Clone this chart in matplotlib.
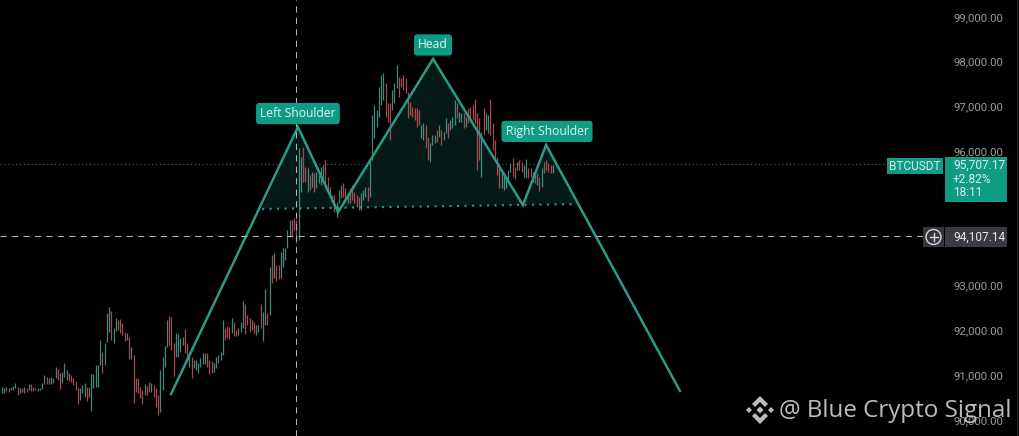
#Importing the necessary libraries
import matplotlib
matplotlib.use("Agg")
import matplotlib.pyplot as plt
from matplotlib.patches import Rectangle, Polygon, Circle

#Candle data, one entry per bar
highs = [
    90740,90710,90740,90710,90740,90760,90830,90740,90710,90710,
    90740,90710,90800,90800,90740,90710,90710,90710,90830,91000,
    90960,90940,90960,90940,91180,91140,91050,91070,91270,91120,
    91050,91000,90940,90870,90710,90710,90780,90830,90740,90740,
    91030,91030,91230,91230,91790,91520,91720,92390,92520,92430,
    92050,92280,92230,92250,92170,91960,91940,91850,91630,91450,
    90940,90940,90740,90670,90800,90760,90850,90830,90780,90710,
    90560,91120,91410,91650,92230,92320,92300,91720,91940,91920,
    91830,91850,92030,91720,91500,91410,91340,91340,91270,91380,
    91500,91500,91500,91340,91320,91270,91410,91450,91520,92230,
    92050,92100,92080,92280,92190,92010,92050,92190,92660,92590,
    92340,92280,92230,92190,92120,92120,92590,92410,92920,92390,
    93410,93680,93730,93460,93460,93750,93840,93840,94240,94460,
    94460,94510,94460,96070,95870,96090,95650,95620,95470,95540,
    95510,95540,95470,95650,95690,95800,95420,95200,95020,95020,
    94870,95130,95250,95290,95180,95070,95180,95250,95090,95020,
    94980,95070,95130,95200,95200,95800,96810,97030,96920,97430,
    97700,97750,97520,97080,97080,97370,97520,97920,97660,97630,
    97700,97630,97320,97100,96990,96960,96960,96920,96580,96630,
    96580,96320,96180,96360,96360,96470,96580,96470,96430,96740,
    96630,96700,96760,97140,97080,96870,96850,96850,96760,96960,
    96990,97030,97160,96850,96740,96430,96960,96850,96810,97160,
    96630,96250,95870,95740,95510,95470,95420,95580,95740,95850,
    95650,95760,95800,95760,95690,95830,95620,95620,95540,95470,
    95510,95420,95620,95760,95800,95740,95690,95690,
]
lows = [
    90600,90600,90650,90620,90670,90670,90710,90560,90600,90620,
    90600,90620,90670,90650,90650,90670,90650,90670,90690,90800,
    90800,90800,90800,90830,90940,90890,90690,90830,90960,90890,
    90870,90850,90780,90670,90360,90450,90600,90510,90420,90510,
    90200,90710,90740,90740,91230,91050,91230,91740,91960,91790,
    91720,91990,92010,91940,91900,91760,91790,91360,91360,90380,
    90620,90600,90490,90360,90560,90560,90620,90620,90510,90290,
    90110,90180,90670,91180,91630,91670,91560,90980,91410,91410,
    91520,91670,91500,91340,91180,90940,91160,91120,91050,91180,
    91250,91250,91180,91030,91050,91070,91160,91270,91340,91450,
    91790,91830,91810,91940,91870,91870,91900,91960,92050,91920,
    92120,91960,92010,91940,91900,91960,92050,91760,92120,92120,
    92340,93060,93170,93100,93150,93170,93410,93570,93840,94080,
    94080,94240,93950,94020,95090,95310,95310,95090,95130,95200,
    95090,95180,95290,95250,95360,95290,95090,94980,94840,94640,
    94530,94840,94950,94980,94870,94840,94840,94910,94840,94750,
    94690,94690,94910,94980,94890,94980,95800,96290,96540,96760,
    97030,97140,96760,96650,96250,96920,97080,97410,97210,97430,
    97370,97300,96740,96810,96760,96700,96540,96580,96290,96250,
    96070,95800,95760,96140,96180,96200,96320,96140,96250,96410,
    96290,96470,96520,96580,96740,96650,96650,96520,96540,96630,
    96700,96700,96630,95580,95800,95420,96360,96470,96410,96360,
    96030,95800,95470,95180,95180,95130,95180,95310,95540,95420,
    95380,95580,95580,95540,95420,95400,95400,95420,95310,95290,
    95250,95110,95200,95510,95580,95540,95510,95510,
]
#g = up bar, r = down bar
directions = (
    "gggrgggrgr" "grgrrggggg" "rrgggrrggg" "rrrrrgggrr" "gggggrgggr"
    "ggrrrrgrgr" "rrrrgrrgrr" "rggggrrrgg" "ggrrgrgggg" "ggrrrggggg"
    "rrrgrrgggr" "rrrrggrggr" "grgrrggggg" "rrrggrrgrg" "rggggrrrrr"
    "gggrrgrrrr" "rgggrggggg" "ggrrrgggrr" "rrrrrrrrgg" "rrgggrgrgg"
    "rgggrggrgr" "rrrrrgrggr" "rrrrgggggr" "rgrrggrrgr" "grgrrrrg"
)

#Head and shoulders drawing, as (bar, price) values
pattern_bars = [75.8, 132.7, 150.7, 193.3, 233.6, 244.0, 304.0]
pattern_prices = [90580, 96540, 94640, 98060, 94800, 96140, 90650]
neck_bars = [116.6, 258.3]
neck_prices = [94710, 94820]

pattern_labels = ["Left Shoulder", "Head", "Right Shoulder"]
label_bars = [132.7, 193.3, 244.4]
label_prices = [96840, 98370, 96440]

#94,000 and 95,000 sit behind the price tags, so they are not shown
price_ticks = [90000, 91000, 92000, 93000, 96000, 97000, 98000, 99000]
last_price = 95707.17
cursor_price = 94107.14
cursor_bar = 131.8
ticker = "BTCUSDT"
info_lines = ["95,707.17", "+2.82%", "18:11"]
watermark = "@ Blue Crypto Signal"

TEAL = "#0f9c85"
LINE = "#2b9a88"
UP = "#4a9688"
DOWN = "#b8525a"
GUIDE = "#b4b4b4"
W, H = 1019, 436

fig = plt.figure(figsize=(W / 100, H / 100), dpi=100, facecolor="black")
ax = fig.add_axes([0, 0, 1, 1], facecolor="black")
ax.set_xlim(-0.9, 456.06)
ax.set_ylim(89643, 99374)
for spine in ax.spines.values():
    spine.set_visible(False)
ax.set_xticks([])

#Price scale sits inside the picture on the right
ax.yaxis.tick_right()
ax.set_yticks(price_ticks)
ax.set_yticklabels([f"{p:,.2f}" for p in price_ticks], family="Roboto", fontsize=8.2, color="#989ba2", va="center_baseline")
ax.tick_params(axis="y", length=0, pad=-46.8)


#Helper for fixed chrome placed in picture pixels
def px(x, y):
    return (x / W, 1 - y / H)


def chrome_rect(x0, y0, x1, y1, color, zorder=6):
    fig.add_artist(Rectangle(px(x0, y1), (x1 - x0) / W, (y1 - y0) / H, transform=fig.transFigure,
                             facecolor=color, edgecolor="none", zorder=zorder))


#Guides
ax.hlines(last_price, -0.9, 397, colors="#4f6b65", linewidth=0.8, linestyles=(0, (1, 2.5)), zorder=1)
ax.hlines(cursor_price, -0.9, 413, colors=GUIDE, linewidth=0.75, linestyles=(0, (6, 5)), zorder=5)
ax.vlines(cursor_bar, 89643, 99374, colors=GUIDE, linewidth=0.75, linestyles=(0, (6, 5)), zorder=5)

#Filled pattern area and neckline
area = list(zip(neck_bars[:1] + pattern_bars[1:6] + neck_bars[1:],
                neck_prices[:1] + pattern_prices[1:6] + neck_prices[1:]))
ax.add_patch(Polygon(area, closed=True, facecolor="#051a17", edgecolor="none", zorder=1))
ax.plot(neck_bars, neck_prices, color=LINE, linewidth=1.5, linestyle=(0, (1, 2.6)), zorder=3)

#Candles
bars = list(range(len(highs)))
colors = [UP if d == "g" else DOWN for d in directions]
ax.vlines(bars, lows, highs, colors=colors, linewidth=0.9, alpha=0.9, zorder=2)

#Pattern line and its labels
ax.plot(pattern_bars, pattern_prices, color=LINE, linewidth=1.8, zorder=4, solid_joinstyle="miter")
for name, b, p in zip(pattern_labels, label_bars, label_prices):
    ax.text(b, p, name, family="Open Sans", fontsize=8.7, color="#e4f3f0", ha="center", va="center", zorder=7,
            bbox=dict(boxstyle="round,pad=0.34,rounding_size=0.25", facecolor=TEAL, edgecolor="none"))

#Last price tag
chrome_rect(887, 158, 943, 174, TEAL)
chrome_rect(945, 157, 1007, 202, TEAL)
fig.text(*px(915, 166), ticker, family="Roboto", fontsize=8.6, color="#d9efeb", ha="center", va="center", zorder=7)
for line, y in zip(info_lines, [165, 179, 193]):
    fig.text(*px(953, y), line, family="Roboto", fontsize=8.6, color="#d9efeb", ha="left", va="center", zorder=7)

#Cursor price tag
chrome_rect(923, 227, 944, 247, "#34343c")
chrome_rect(945, 227, 1007, 247, "#3a3a42")
fig.text(*px(953, 237), f"{cursor_price:,.2f}", family="Roboto", fontsize=8.6, color="#e6e6e6", ha="left", va="center", zorder=7)
fig.add_artist(Circle((933.5, H - 237), 7.5, transform=None, facecolor="none", edgecolor="#d8d8d8", linewidth=1, zorder=7))
fig.add_artist(plt.Line2D([929.5, 937.5], [H - 237, H - 237], transform=None, color="#d8d8d8", linewidth=1, zorder=7))
fig.add_artist(plt.Line2D([933.5, 933.5], [H - 241, H - 233], transform=None, color="#d8d8d8", linewidth=1, zorder=7))

#Right edge of the price scale
chrome_rect(1017, 0, 1018, 436, "#2a2a2e")

#Watermark with the diamond logo
fig.text(*px(779, 411), watermark, family="Open Sans", fontsize=17.4, color="#bcbcbc", ha="left", va="center", zorder=9)
cx, cy = 760, 410
logo = [
    [(0, -14), (8, -6), (5, -3), (0, -8), (-5, -3), (-8, -6)],
    [(0, 14), (8, 6), (5, 3), (0, 8), (-5, 3), (-8, 6)],
    [(0, -3.5), (3.5, 0), (0, 3.5), (-3.5, 0)],
    [(-14, 0), (-11, -3), (-8, 0), (-11, 3)],
    [(14, 0), (11, -3), (8, 0), (11, 3)],
]
for shape in logo:
    fig.add_artist(Polygon([(cx + dx, H - cy - dy) for dx, dy in shape], closed=True, transform=None,
                           facecolor="#bcbcbc", edgecolor="none", zorder=9))

fig.savefig("out.png", dpi=100, facecolor="black")
